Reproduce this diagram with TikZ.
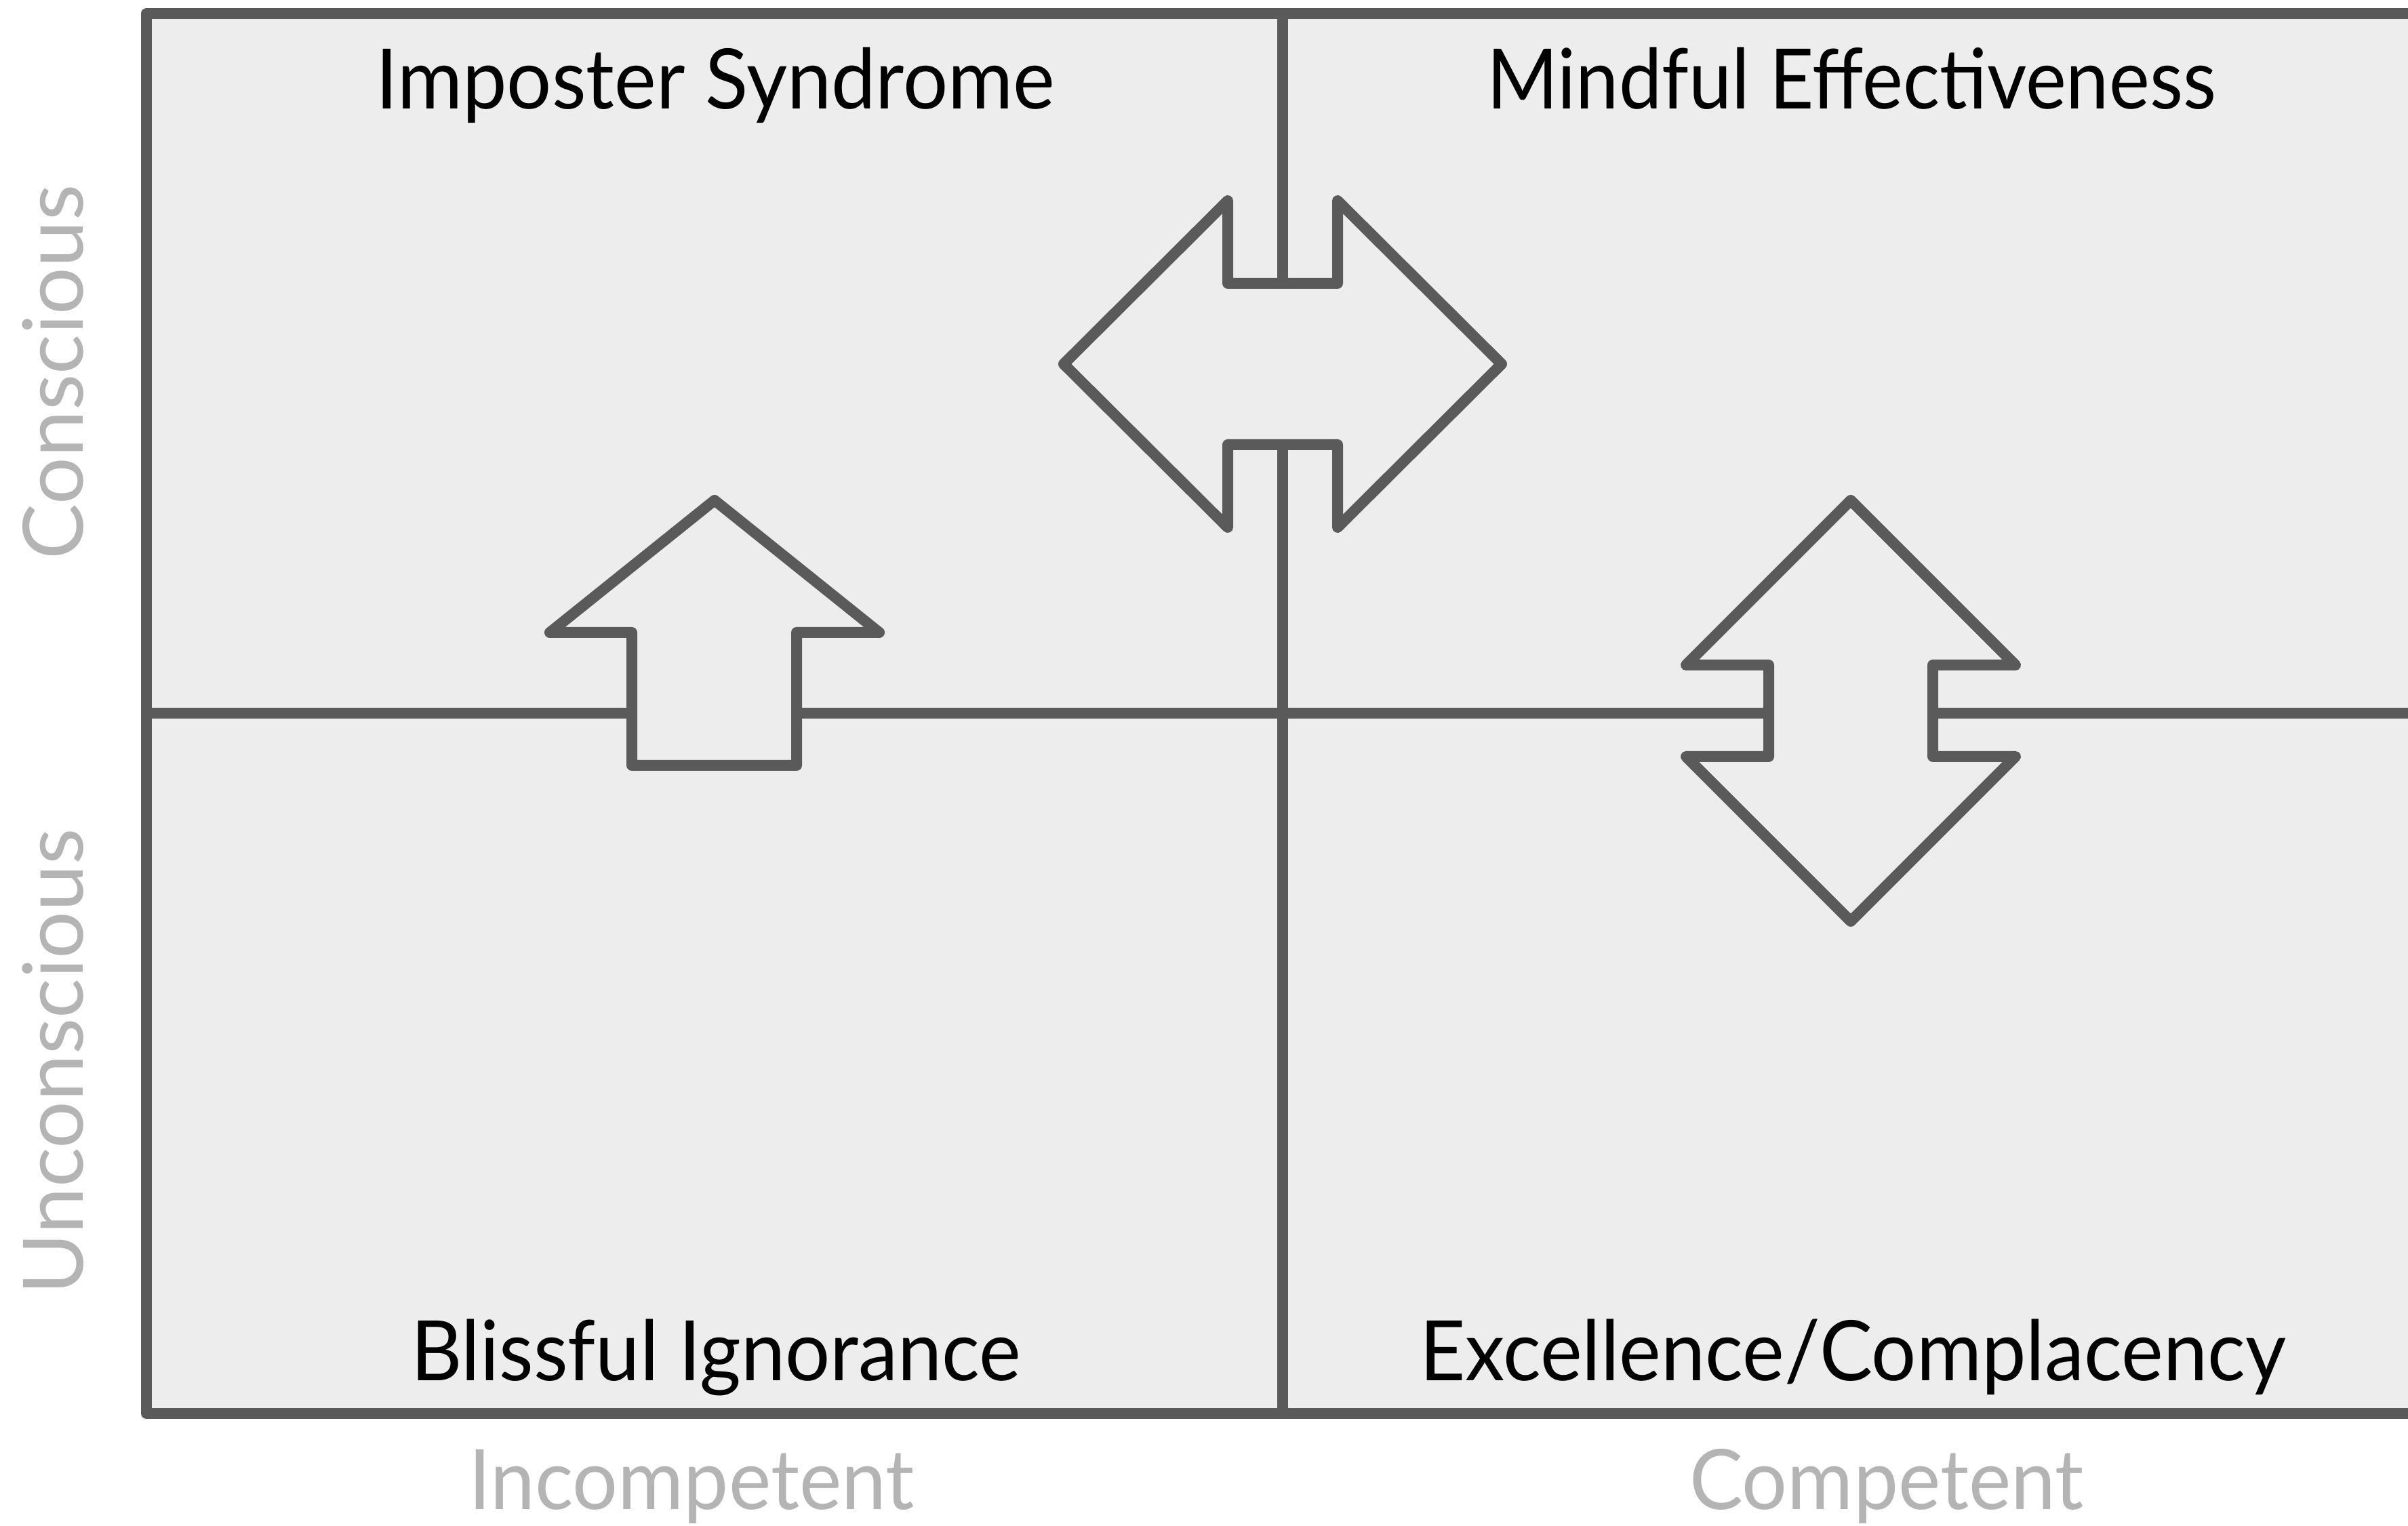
\documentclass[tikz,border=0pt]{standalone}
\usepackage{fontspec}
\setmainfont{Lato}
\usepackage[svgnames]{xcolor}
\definecolor{gridline}{HTML}{5A5A5A}
\definecolor{panelfill}{HTML}{EDEDED}
\definecolor{axisgray}{HTML}{B4B4B4}

\begin{document}
\begin{tikzpicture}[line width=4.55pt, line join=round,
        every node/.append style={font=\fontsize{35}{42}\selectfont, inner sep=0pt}]
      \tikzstyle{quadrant} = [color=black, anchor=base, xscale=0.95]
      \tikzstyle{axis} = [color=axisgray, anchor=base]
      \tikzstyle{blockarrow} = [draw=gridline, fill=panelfill]
      \clip (0,0) rectangle (35.52,22.51);
      \draw[gridline, fill=panelfill] (2.16,1.66) rectangle (36,22.31);
      \coordinate (top) at (18.92,22.31);
      \coordinate (bottom) at (18.92,1.66);
      \coordinate (left) at (2.16,11.99);
      \coordinate (right) at (36,11.99);
      \draw[gridline] (top) -- (bottom);
      \draw[gridline] (left) -- (right);
      \draw[blockarrow] (8.11,13.18) -- (10.54,15.13) -- (12.97,13.18) -- (11.75,13.18)
        -- (11.75,11.22) -- (9.32,11.22) -- (9.32,13.18) -- cycle;
      \draw[blockarrow] (15.69,17.14) -- (18.11,19.55) -- (18.11,18.33) -- (19.73,18.33)
        -- (19.73,19.55) -- (22.15,17.14) -- (19.73,14.73) -- (19.73,15.95)
        -- (18.11,15.95) -- (18.11,14.73) -- cycle;
      \draw[blockarrow] (27.30,15.13) -- (29.73,12.70) -- (28.51,12.70) -- (28.51,11.35)
        -- (29.73,11.35) -- (27.30,8.92) -- (24.87,11.35) -- (26.09,11.35)
        -- (26.09,12.70) -- (24.87,12.70) -- cycle;
      \node (imposter) [quadrant] at (10.55,20.90) {Imposter Syndrome};
      \node (mindful) [quadrant, xscale=0.97] at (27.31,20.90) {Mindful Effectiveness};
      \node (blissful) [quadrant] at (10.56,2.14) {Blissful Ignorance};
      \node (excellence) [quadrant] at (27.33,2.14) {Excellence/Complacency};
      \node (incompetent) [axis, xscale=0.96] at (10.20,0.24) {Incompetent};
      \node (competent) [axis, xscale=0.96] at (27.83,0.24) {Competent};
      \node (conscious) [axis, rotate=90] at (1.22,17.02) {Conscious};
      \node (unconscious) [axis, rotate=90] at (1.22,6.85) {Unconscious};
\end{tikzpicture}
\end{document}
